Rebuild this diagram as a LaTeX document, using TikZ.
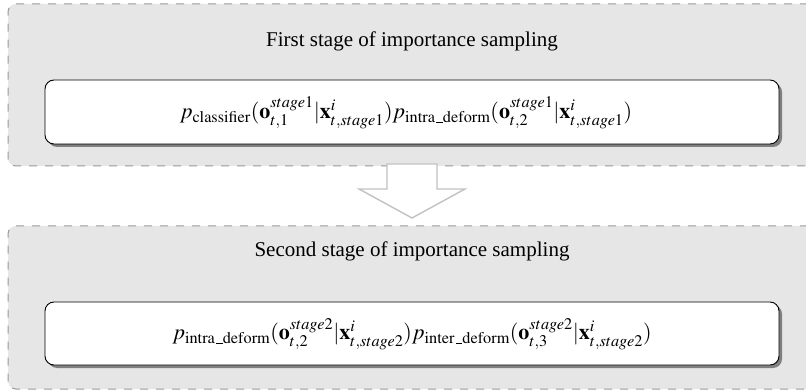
\documentclass[tikz,border=0pt]{standalone}
\usepackage{mathptmx}
\usepackage{fontspec}
\setmainfont{Liberation Serif}
\usetikzlibrary{shadows}
\newcommand{\lowbar}{\leavevmode\kern.06em\vbox{\hrule width.3em height .4pt}}
\definecolor{stagefill}{HTML}{E6E6E6}
\definecolor{stageline}{HTML}{9A9A9A}
\definecolor{arrowline}{HTML}{C2C2C2}
\tikzset{
  stagebox/.style={draw=stageline, fill=stagefill, line width=1pt,
    dash pattern=on 8pt off 8pt, rounded corners=8pt, minimum width=808pt, inner sep=0pt},
  formulabox/.style={draw=black, fill=white, line width=0.9pt, rounded corners=9pt,
    minimum width=734pt, inner sep=0pt,
    drop shadow={shadow xshift=3pt, shadow yshift=-3pt, fill=black!50, opacity=1}},
  titletext/.style={font=\fontsize{21}{25}\selectfont, inner sep=0pt},
  formtext/.style={font=\fontsize{22}{26}\selectfont, inner sep=0pt},
  blockarrow/.style={draw=arrowline, line width=1.4pt, fill=white, line join=miter}
}
\begin{document}
\begin{tikzpicture}[x=1pt,y=-1pt]
\useasboundingbox (0,0) rectangle (806,390);
\clip (0,0) rectangle (806,390);
\node[stagebox, minimum height=162pt] (outer1) at (412,85) {};
\node[stagebox, minimum height=163pt] (outer2) at (412,307.5) {};
\node[titletext] (title1) at (412,41) {First stage of importance sampling};
\node[titletext] (title2) at (412,251) {Second stage of importance sampling};
\node[formulabox, minimum height=64pt] (inner1) at (412,112) {};
\node[formulabox, minimum height=63pt] (inner2) at (412,333.5) {};
\node[formtext] (form1) at (406,113) {$p_{\mathrm{classifier}}(\mathbf{o}^{stage1}_{t,1}|\mathbf{x}^{i}_{t,stage1})p_{\mathrm{intra\lowbar deform}}(\mathbf{o}^{stage1}_{t,2}|\mathbf{x}^{i}_{t,stage1})$};
\node[formtext] (form2) at (412,334) {$p_{\mathrm{intra\lowbar deform}}(\mathbf{o}^{stage2}_{t,2}|\mathbf{x}^{i}_{t,stage2})p_{\mathrm{inter\lowbar deform}}(\mathbf{o}^{stage2}_{t,3}|\mathbf{x}^{i}_{t,stage2})$};
\draw[blockarrow] (387,164) -- (387,189) -- (359,189) -- (412,218) -- (465,189) -- (437,189) -- (437,164) -- cycle;
\end{tikzpicture}
\end{document}
